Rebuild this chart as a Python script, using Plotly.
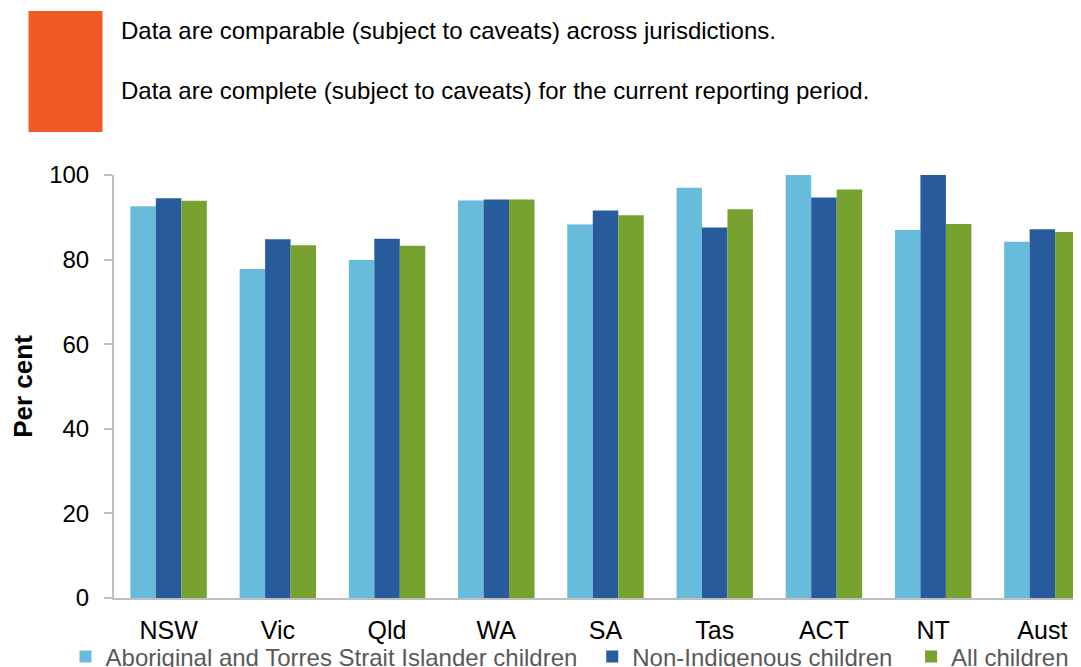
import plotly.graph_objects as go

# jurisdictions and per cent values
jurisdictions = ['NSW', 'Vic', 'Qld', 'WA', 'SA', 'Tas', 'ACT', 'NT', 'Aust']
indigenous = [92.6, 77.8, 79.9, 94.0, 88.3, 97.0, 100.0, 87.0, 84.2]
non_indigenous = [94.5, 84.8, 84.9, 94.2, 91.6, 87.6, 94.7, 100.0, 87.2]
all_children = [93.9, 83.4, 83.3, 94.2, 90.5, 91.9, 96.6, 88.4, 86.5]

series_names = ['Aboriginal and Torres Strait Islander children',
                'Non-Indigenous children', 'All children']
y_ticks = [0, 20, 40, 60, 80, 100]

FONT = 'Arial, Liberation Sans, sans-serif'
colors = ['#67BCDB', '#275B9B', '#78A22F']

# the html page has an 8px body margin, so work in page pixels and shift.
# the source chart runs past the right and bottom edges of the window,
# so the figure is a bit larger than the window and gets clipped the same way
OFF = 8
FW, FH = 1097 - OFF, 690 - OFF

fig = go.Figure()
for name, vals, col, lg in zip(series_names,
                               [indigenous, non_indigenous, all_children],
                               colors, ['legend', 'legend2', 'legend3']):
    fig.add_trace(go.Bar(x=jurisdictions, y=vals, name=name,
                         marker=dict(color=col, line_width=0), legend=lg))

# plot area in page pixels: left 113.5, right 1097, top 175, bottom 598
L, R, T, B = 113.5 - OFF, 1097 - OFF, 175 - OFF, 598 - OFF
W, H = R - L, B - T


def px(x):
    return (x - OFF - L) / W


def py(y):
    return (B - (y - OFF)) / H


legend_base = dict(orientation='h', xanchor='left', yanchor='middle', y=py(657),
                   font=dict(family=FONT, size=24, color='#595959'),
                   bgcolor='rgba(0,0,0,0)', itemwidth=30, tracegroupgap=0)

fig.update_layout(
    width=FW, height=FH,
    margin=dict(l=L, r=FW - R, t=T, b=FH - B),
    paper_bgcolor='white', plot_bgcolor='white',
    barmode='group', bargap=0.30, bargroupgap=0,
    font=dict(family=FONT, color='black'),
    showlegend=True,
    legend=dict(legend_base, x=px(106 - 41)),
    legend2=dict(legend_base, x=px(633 - 41)),
    legend3=dict(legend_base, x=px(952 - 41)),
    xaxis=dict(showline=True, linecolor='#BFBFBF', linewidth=2,
               ticks='', showgrid=False, ticklabelstandoff=9,
               tickfont=dict(size=25, color='black')),
    yaxis=dict(range=[0, 100], tickvals=y_ticks, showline=True, linecolor='#BFBFBF',
               linewidth=2, ticks='outside', ticklen=8, tickcolor='#BFBFBF', tickwidth=2,
               showgrid=False, zeroline=False, ticklabelstandoff=10,
               tickfont=dict(size=24, color='black'),
               title=dict(text='<b>Per cent</b>', font=dict(size=26, color='black'),
                          standoff=12)),
)

# orange status marker and notes above the chart
fig.add_shape(type='rect', xref='paper', yref='paper',
              x0=px(28), x1=px(102), y0=py(132), y1=py(11),
              fillcolor='#F15A24', line_width=0)
notes = ['Data are comparable (subject to caveats) across jurisdictions.',
         'Data are complete (subject to caveats) for the current reporting period.']
for txt, yy in zip(notes, [30, 90]):
    fig.add_annotation(text=txt, xref='paper', yref='paper', x=px(119), y=py(yy),
                       xanchor='left', yanchor='middle', showarrow=False,
                       font=dict(family=FONT, size=24, color='black'))

fig.write_html("out.html")
